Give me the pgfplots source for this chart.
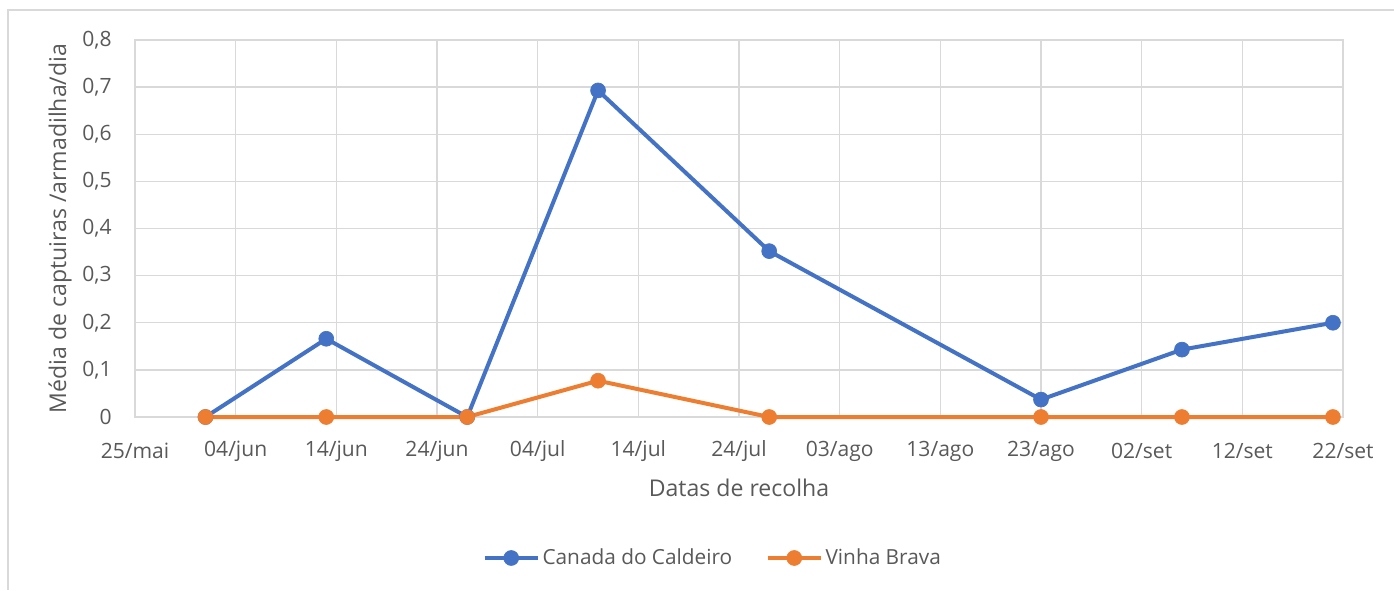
\documentclass[border=0pt]{standalone}
\usepackage{fontspec}
\setmainfont{Open Sans}
\usepackage{pgfplots}
\pgfplotsset{compat=1.18}
\definecolor{cblue}{HTML}{4472C4}
\definecolor{corange}{HTML}{ED7D31}
\definecolor{cgrid}{HTML}{D9D9D9}
\definecolor{ctext}{HTML}{595959}
\begin{document}
\begin{tikzpicture}
\path[use as bounding box] (0,0) rectangle (1045.5pt,442.5pt);
\draw[cgrid, line width=1pt] (6pt,0pt) -- (6pt,435pt) -- (1045.5pt,435pt);
\begin{axis}[
  at={(101.25pt,129.75pt)}, anchor=south west,
  scale only axis, width=906pt, height=282.75pt,
  xmin=0, xmax=120, ymin=0, ymax=0.8,
  xtick={0,10,20,30,40,50,60,70,80,90,100,110,120},
  xticklabels={25/mai,04/jun,14/jun,24/jun,04/jul,14/jul,24/jul,03/ago,13/ago,23/ago,02/set,12/set,22/set},
  ytick={0,0.1,0.2,0.3,0.4,0.5,0.6,0.7,0.8},
  yticklabels={0,{0,1},{0,2},{0,3},{0,4},{0,5},{0,6},{0,7},{0,8}},
  grid=major, major grid style={cgrid, line width=1.1pt},
  axis line style={cgrid, line width=1.1pt},
  tick style={draw=none},
  ticklabel style={font=\fontsize{15.8}{19}\selectfont, text=ctext},
  xticklabel style={anchor=center, yshift=-25.5pt},
  yticklabel style={anchor=east, xshift=-14pt},
  label style={font=\fontsize{17.3}{21}\selectfont, text=ctext},
  xlabel={Datas de recolha},
  ylabel={Média de captuiras /armadilha/dia},
  xlabel style={at={(axis description cs:0.5,-0.188)}, anchor=center},
  ylabel style={at={(axis description cs:-0.062,0.5)}, anchor=center},
  clip=false,
  legend style={at={(0.4785,-0.374)}, anchor=center, draw=none, legend columns=2,
    font=\fontsize{15.6}{19}\selectfont, text=ctext,
    /tikz/every even column/.append style={column sep=23pt}},
  legend image code/.code={\draw[mark repeat=2,mark phase=2] plot coordinates {(0pt,0pt)(20pt,0pt)(40pt,0pt)};},
]
\addplot[cblue, line width=3pt, mark=*, mark size=5.6pt, mark options={solid, fill=cblue, draw=cblue, line width=0.5pt}]
  coordinates {(7,0) (19,0.166) (33,0) (46,0.693) (63,0.352) (90,0.037) (104,0.143) (119,0.200)};
\addlegendentry{Canada do Caldeiro}
\addplot[corange, line width=3pt, mark=*, mark size=5.6pt, mark options={solid, fill=corange, draw=corange, line width=0.5pt}]
  coordinates {(7,0) (19,0) (33,0) (46,0.077) (63,0) (90,0) (104,0) (119,0)};
\addlegendentry{Vinha Brava}
\end{axis}
\end{tikzpicture}
\end{document}
